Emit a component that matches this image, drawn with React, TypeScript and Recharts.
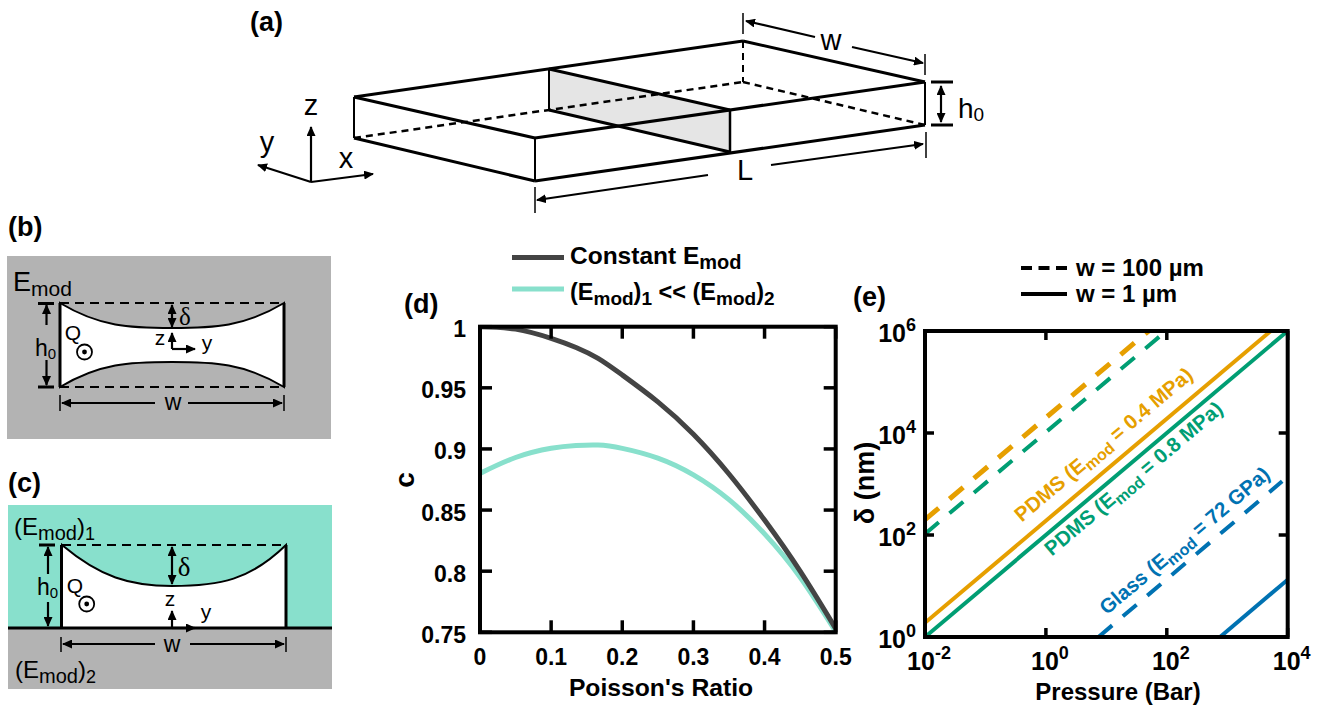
import { LineChart, Line, XAxis, YAxis } from 'recharts';

// panel (d)
const poissonRatio = [0, 0.05, 0.1, 0.135, 0.166, 0.2, 0.25, 0.3, 0.35, 0.4, 0.45, 0.5];
const constantEmod = [1, 0.998, 0.9905, 0.983, 0.9741, 0.9605, 0.9385, 0.912, 0.8795, 0.8418, 0.8, 0.753];
const layeredEmod = [0.88, 0.893, 0.9005, 0.9028, 0.9032, 0.9005, 0.8925, 0.8788, 0.8585, 0.8305, 0.795, 0.7505];
const ratioTicks = [0, 0.1, 0.2, 0.3, 0.4, 0.5];
const cTicks = [0.75, 0.8, 0.85, 0.9, 0.95, 1];

// panel (e), [pressure, delta]
const pdmsSoftWide = [[0.01, 200], [50, 1e6]];
const pdmsStiffWide = [[0.01, 105], [78, 8e5]];
const glassWide = [[7.4, 1], [8100, 1130]];
const pdmsSoftNarrow = [[0.01, 1.9], [5250, 1e6]];
const pdmsStiffNarrow = [[0.01, 1], [10000, 1e6]];
const glassNarrow = [[760, 1], [10000, 13.3]];
const pressureTicks = [0.01, 1, 100, 10000];
const deltaTicks = [1, 100, 10000, 1000000];

const ORANGE = '#E69F00';
const GREEN = '#009E73';
const BLUE = '#0072B2';
const DARK = '#444444';
const TEAL = '#88E0CC';
const GRAY = '#B3B3B3';
const FONT = '"Liberation Sans", Arial, sans-serif';
const SERIF = '"Liberation Serif", serif';

// plot boxes in page pixels, the chart margins below are derived from them
const RATIO_BOX = { left: 480, top: 326.7, right: 835.7, bottom: 632.3 };
const DELTA_BOX = { left: 925, top: 331, right: 1287.7, bottom: 637 };

const ratioData = poissonRatio.map((x, i) => ({ x, constant: constantEmod[i], layered: layeredEmod[i] }));
const toPoints = (pts: number[][]) => pts.map(([x, y]) => ({ x, y }));

function axisLabel(side: string, opts: any = {}) {
  return (props: any) => {
    const { x, y, payload } = props;
    const { shiftX = 0, shiftY = 0, power = false } = opts;
    return (
      <text x={x + shiftX} y={y + shiftY} textAnchor={side === 'left' ? 'end' : 'middle'} fontFamily={FONT} fontWeight={700} fontSize={power ? 25 : 23} fill="#000">
        {power ? (
          <>
            <tspan>10</tspan>
            <tspan dy={-11} fontSize={18}>{Math.round(Math.log10(payload.value))}</tspan>
          </>
        ) : (
          String(payload.value)
        )}
      </text>
    );
  };
}

function Arrow({ x1, y1, x2, y2, both, w = 2.2 }: any) {
  return (
    <line x1={x1} y1={y1} x2={x2} y2={y2} stroke="#000" strokeWidth={w}
      markerEnd="url(#head)" markerStart={both ? 'url(#headStart)' : undefined} />
  );
}

function Seg({ p, w = 3, dash }: any) {
  return <line x1={p[0]} y1={p[1]} x2={p[2]} y2={p[3]} stroke="#000" strokeWidth={w} strokeDasharray={dash} />;
}

function T({ x, y, size = 24, weight = 400, family = FONT, anchor = 'middle', fill = '#000', children, transform }: any) {
  return (
    <text x={x} y={y} fontSize={size} fontWeight={weight} fontFamily={family} textAnchor={anchor} fill={fill} transform={transform}>
      {children}
    </text>
  );
}

function Sub({ children, size }: any) {
  return <tspan dy={5} fontSize={size}>{children}</tspan>;
}

const rot = (x: number, y: number, angle: number) => `rotate(${angle} ${x} ${y})`;

function Schematics() {
  return (
    <svg width={1318} height={705} style={{ position: 'absolute', left: 0, top: 0 }}>
      <defs>
        <marker id="head" markerWidth="10" markerHeight="9" refX="9" refY="4.5" orient="auto" markerUnits="userSpaceOnUse">
          <path d="M0,0 L10,4.5 L0,9 Z" fill="#000" />
        </marker>
        <marker id="headStart" markerWidth="10" markerHeight="9" refX="1" refY="4.5" orient="auto" markerUnits="userSpaceOnUse">
          <path d="M10,0 L0,4.5 L10,9 Z" fill="#000" />
        </marker>
      </defs>

      {/* (a) */}
      <T x={250} y={31} anchor="start" weight={700} size={27}>(a)</T>
      <polygon points="549,69 730,110 730,152 549,110" fill="#E5E5E5" />
      <Seg p={[354, 138, 743, 82]} w={2.5} dash="7 5" />
      <Seg p={[743, 82, 925, 125]} w={2.5} dash="7 5" />
      <Seg p={[743, 41, 743, 82]} w={2} dash="7 5" />
      <Seg p={[354, 97, 743, 41]} />
      <Seg p={[743, 41, 925, 82]} />
      <Seg p={[925, 82, 535, 138]} />
      <Seg p={[535, 138, 354, 97]} />
      <Seg p={[354, 97, 354, 138]} w={2} />
      <Seg p={[354, 138, 535, 181]} />
      <Seg p={[535, 181, 925, 125]} />
      <Seg p={[925, 82, 925, 125]} w={2} />
      <Seg p={[535, 138, 535, 181]} w={2} />
      <Seg p={[549, 69, 730, 110]} />
      <Seg p={[549, 110, 730, 152]} />
      <Seg p={[549, 69, 549, 110]} w={2} />
      <Seg p={[730, 110, 730, 152]} w={2.5} />
      <Seg p={[743, 13, 743, 34]} w={1.5} />
      <Seg p={[925, 54, 925, 75]} w={1.5} />
      <Arrow x1={815} y1={37} x2={746} y2={21} />
      <Arrow x1={852} y1={47} x2={923} y2={63} />
      <T x={831} y={50} size={29}>w</T>
      <Seg p={[931, 82, 953, 82]} />
      <Seg p={[931, 125, 953, 125]} />
      <Arrow x1={941} y1={86} x2={941} y2={122} both />
      <T x={958} y={118} anchor="start" size={28}>h<tspan dy={3} fontSize={19}>0</tspan></T>
      <Seg p={[535, 187, 535, 213]} w={1.5} />
      <Seg p={[926, 132, 926, 158]} w={1.5} />
      <Arrow x1={771} y1={165} x2={923} y2={144} />
      <Arrow x1={708} y1={175} x2={537} y2={200} />
      <T x={745} y={180} size={29}>L</T>
      <Arrow x1={311} y1={182} x2={311} y2={127} />
      <Arrow x1={311} y1={182} x2={258} y2={165} />
      <Arrow x1={311} y1={182} x2={373} y2={174} />
      <T x={311} y={115} size={29}>z</T>
      <T x={267} y={152} size={29}>y</T>
      <T x={346} y={168} size={29}>x</T>

      {/* (b) */}
      <T x={8} y={236} anchor="start" weight={700} size={27}>(b)</T>
      <rect x={7} y={256} width={324} height={183} fill={GRAY} />
      <path d="M60,303 C100,327 130,328 172,328 C214,328 244,327 284,303 L284,387 C244,363 214,362 172,362 C130,362 100,363 60,387 Z" fill="#fff" stroke="#000" strokeWidth={2} />
      <Seg p={[60, 303, 284, 303]} w={2} dash="9 6" />
      <Seg p={[60, 387, 284, 387]} w={2} dash="9 6" />
      <Seg p={[60, 303, 60, 387]} />
      <Seg p={[284, 303, 284, 387]} />
      <T x={13} y={291} anchor="start" size={27}>E<tspan dy={5} fontSize={21}>mod</tspan></T>
      <Seg p={[38, 303.5, 54, 303.5]} />
      <Seg p={[38, 387, 54, 387]} />
      <Arrow x1={46.5} y1={325} x2={46.5} y2={305} />
      <Arrow x1={46.5} y1={360} x2={46.5} y2={385} />
      <T x={35} y={356} anchor="start" size={23}>h<tspan dy={3} fontSize={15}>0</tspan></T>
      <Arrow x1={172} y1={305} x2={172} y2={327} both />
      <T x={185} y={325} family={SERIF} size={25}>δ</T>
      <T x={160} y={345} size={21}>z</T>
      <Arrow x1={172} y1={349} x2={172} y2={333} />
      <Arrow x1={172} y1={349} x2={195} y2={349} />
      <T x={207} y={350} size={21}>y</T>
      <T x={73} y={340} size={21}>Q</T>
      <circle cx={84.5} cy={352} r={7.5} fill="#fff" stroke="#000" strokeWidth={1.8} />
      <circle cx={84.5} cy={352} r={2.4} fill="#000" />
      <Seg p={[60, 395, 60, 411]} w={1.5} />
      <Seg p={[284, 395, 284, 411]} w={1.5} />
      <Arrow x1={155} y1={403} x2={62} y2={403} />
      <Arrow x1={188} y1={403} x2={282} y2={403} />
      <T x={173} y={410} size={23}>w</T>

      {/* (c) */}
      <T x={8} y={492} anchor="start" weight={700} size={27}>(c)</T>
      <rect x={8} y={505} width={324} height={123} fill={TEAL} />
      <rect x={8} y={628} width={324} height={61} fill={GRAY} />
      <path d="M62,545 C100,577 130,586 172,586 C220,586 250,580 286,545 L286,628 L62,628 Z" fill="#fff" stroke="#000" strokeWidth={2} />
      <Seg p={[62, 545, 286, 545]} w={2} dash="9 6" />
      <Seg p={[61.5, 545, 61.5, 628]} />
      <Seg p={[286, 545, 286, 628]} />
      <Seg p={[8, 628, 332, 628]} />
      <T x={14} y={535} anchor="start" size={24}>(E<tspan dy={5} fontSize={20}>mod</tspan><tspan dy={-5}>)</tspan><tspan dy={5} fontSize={18}>1</tspan></T>
      <T x={15} y={678} anchor="start" size={24}>(E<tspan dy={5} fontSize={20}>mod</tspan><tspan dy={-5}>)</tspan><tspan dy={5} fontSize={18}>2</tspan></T>
      <Seg p={[39, 545, 55, 545]} />
      <Arrow x1={48} y1={574} x2={48} y2={547} />
      <Arrow x1={48} y1={602} x2={48} y2={626} />
      <T x={37} y={595} anchor="start" size={23}>h<tspan dy={3} fontSize={15}>0</tspan></T>
      <Arrow x1={172} y1={547} x2={172} y2={584} both />
      <T x={184} y={576} family={SERIF} size={27}>δ</T>
      <T x={170} y={606} size={21}>z</T>
      <Arrow x1={172} y1={627} x2={172} y2={611} />
      <Arrow x1={172} y1={628} x2={195} y2={628} />
      <T x={206} y={619} size={21}>y</T>
      <T x={75} y={593} size={21}>Q</T>
      <circle cx={86.7} cy={604} r={7.5} fill="#fff" stroke="#000" strokeWidth={1.8} />
      <circle cx={86.7} cy={604} r={2.4} fill="#000" />
      <Seg p={[61, 637, 61, 652]} w={1.5} />
      <Seg p={[286, 637, 286, 652]} w={1.5} />
      <Arrow x1={155} y1={644} x2={63} y2={644} />
      <Arrow x1={190} y1={644} x2={284} y2={644} />
      <T x={172} y={652} size={23}>w</T>

      {/* legends, panel letters and axis titles for the charts */}
      <T x={404} y={313} anchor="start" weight={700} size={27}>(d)</T>
      <line x1={512} y1={257.5} x2={564} y2={257.5} stroke={DARK} strokeWidth={5} />
      <T x={570} y={264} anchor="start" weight={700} size={24.5}>Constant E<Sub size={20}>mod</Sub></T>
      <line x1={512} y1={289} x2={564} y2={289} stroke={TEAL} strokeWidth={5} />
      <T x={570} y={300} anchor="start" weight={700} size={23.5}>
        (E<Sub size={19}>mod</Sub><tspan dy={-5}>)</tspan><Sub size={19}>1</Sub><tspan dy={-5}> &lt;&lt; (E</tspan><Sub size={19}>mod</Sub><tspan dy={-5}>)</tspan><Sub size={19}>2</Sub>
      </T>
      <T x={661} y={696} weight={700} size={24.7}>Poisson's Ratio</T>
      <T x={414} y={480} weight={700} size={28} transform={rot(414, 480, -90)}>c</T>
      <T x={853} y={306} anchor="start" weight={700} size={27}>(e)</T>
      <line x1={1021} y1={268} x2={1067} y2={268} stroke="#000" strokeWidth={4} strokeDasharray="11 6.5" />
      <T x={1076} y={276} anchor="start" weight={700} size={24}>w = 100 µm</T>
      <line x1={1021} y1={294} x2={1067} y2={294} stroke="#000" strokeWidth={4} />
      <T x={1076} y={302} anchor="start" weight={700} size={24}>w = 1 µm</T>
      <T x={1118} y={700} weight={700} size={24}>Pressure (Bar)</T>
      <T x={874} y={483} weight={700} size={27} transform={rot(874, 483, -90)}>δ (nm)</T>

      {/* line labels of panel (e) */}
      <T x={1108} y={450} size={20.5} weight={700} fill={ORANGE} transform={rot(1108, 450, -40.2)}>
        PDMS (E<Sub size={16}>mod</Sub><tspan dy={-5}> = 0.4 MPa)</tspan>
      </T>
      <T x={1138} y={484} size={20.5} weight={700} fill={GREEN} transform={rot(1138, 484, -40.2)}>
        PDMS (E<Sub size={16}>mod</Sub><tspan dy={-5}> = 0.8 MPa)</tspan>
      </T>
      <T x={1189} y={546} size={20.5} weight={700} fill={BLUE} transform={rot(1189, 546, -40.2)}>
        Glass (E<Sub size={16}>mod</Sub><tspan dy={-5}> = 72 GPa)</tspan>
      </T>
    </svg>
  );
}

// frame and inward tick marks of one plot, drawn above the chart
function PlotFrame({ box, xTicks, yTicks, xPos, yPos, len }: any) {
  const marks: number[][] = [];
  xTicks.forEach((t: number) => {
    const px = box.left + xPos(t) * (box.right - box.left);
    marks.push([px, box.top, px, box.top + len], [px, box.bottom, px, box.bottom - len]);
  });
  yTicks.forEach((t: number) => {
    const py = box.bottom - yPos(t) * (box.bottom - box.top);
    marks.push([box.left, py, box.left + len, py], [box.right, py, box.right - len, py]);
  });
  return (
    <g>
      <rect x={box.left} y={box.top} width={box.right - box.left} height={box.bottom - box.top} fill="none" stroke="#000" strokeWidth={4} />
      {marks.map((m, i) => (
        <line key={i} x1={m[0]} y1={m[1]} x2={m[2]} y2={m[3]} stroke="#000" strokeWidth={3.5} />
      ))}
    </g>
  );
}

function Frames() {
  return (
    <svg width={1318} height={705} style={{ position: 'absolute', left: 0, top: 0, pointerEvents: 'none' }}>
      <PlotFrame box={RATIO_BOX} xTicks={ratioTicks} yTicks={cTicks} len={12}
        xPos={(t: number) => t / 0.5} yPos={(t: number) => (t - 0.75) / 0.25} />
      <PlotFrame box={DELTA_BOX} xTicks={pressureTicks} yTicks={deltaTicks} len={9}
        xPos={(t: number) => (Math.log10(t) + 2) / 6} yPos={(t: number) => Math.log10(t) / 6} />
    </svg>
  );
}

function RatioChart() {
  return (
    <div style={{ position: 'absolute', left: 390, top: 300 }}>
      <LineChart width={470} height={405} data={ratioData} margin={{ top: 26.7, right: 24.3, bottom: 0, left: 0 }}>
        <XAxis
          dataKey="x" type="number" domain={[0, 0.5]} ticks={ratioTicks} interval={0} allowDataOverflow
          height={72.7} axisLine={false} tickLine={false} tickSize={0} tickMargin={33}
          tick={axisLabel('bottom')}
        />
        <YAxis
          type="number" domain={[0.75, 1]} ticks={cTicks} interval={0} allowDataOverflow
          width={90} axisLine={false} tickLine={false} tickSize={0} tickMargin={14}
          tick={axisLabel('left', { shiftY: 10.5 })}
        />
        <Line dataKey="layered" type="natural" stroke={TEAL} strokeWidth={5} dot={false} isAnimationActive={false} />
        <Line dataKey="constant" type="natural" stroke={DARK} strokeWidth={5} dot={false} isAnimationActive={false} />
      </LineChart>
    </div>
  );
}

function DeflectionChart() {
  const series = [
    { data: pdmsSoftWide, color: ORANGE, width: 5, dash: '18 14' },
    { data: pdmsStiffWide, color: GREEN, width: 4, dash: '18 14' },
    { data: glassWide, color: BLUE, width: 4, dash: '18 14' },
    { data: pdmsSoftNarrow, color: ORANGE, width: 4 },
    { data: pdmsStiffNarrow, color: GREEN, width: 4 },
    { data: glassNarrow, color: BLUE, width: 4 },
  ];
  return (
    <div style={{ position: 'absolute', left: 850, top: 300 }}>
      <LineChart width={468} height={405} margin={{ top: 31, right: 30.3, bottom: 0, left: 0 }}>
        <XAxis
          dataKey="x" type="number" scale="log" domain={[0.01, 10000]} ticks={pressureTicks} interval={0} allowDataOverflow
          height={68} axisLine={false} tickLine={false} tickSize={0} tickMargin={33}
          tick={axisLabel('bottom', { shiftX: 4, power: true })}
        />
        <YAxis
          dataKey="y" type="number" scale="log" domain={[1, 1000000]} ticks={deltaTicks} interval={0} allowDataOverflow
          width={75} axisLine={false} tickLine={false} tickSize={0} tickMargin={9}
          tick={axisLabel('left', { shiftY: 11, power: true })}
        />
        {series.map((s, i) => (
          <Line key={i} data={toPoints(s.data)} dataKey="y" type="linear" stroke={s.color} strokeWidth={s.width}
            strokeDasharray={s.dash} dot={false} isAnimationActive={false} />
        ))}
      </LineChart>
    </div>
  );
}

export default function App() {
  return (
    <div style={{ position: 'absolute', left: 0, top: 0, width: 1318, height: 705 }}>
      <Schematics />
      <RatioChart />
      <DeflectionChart />
      <Frames />
    </div>
  );
}
